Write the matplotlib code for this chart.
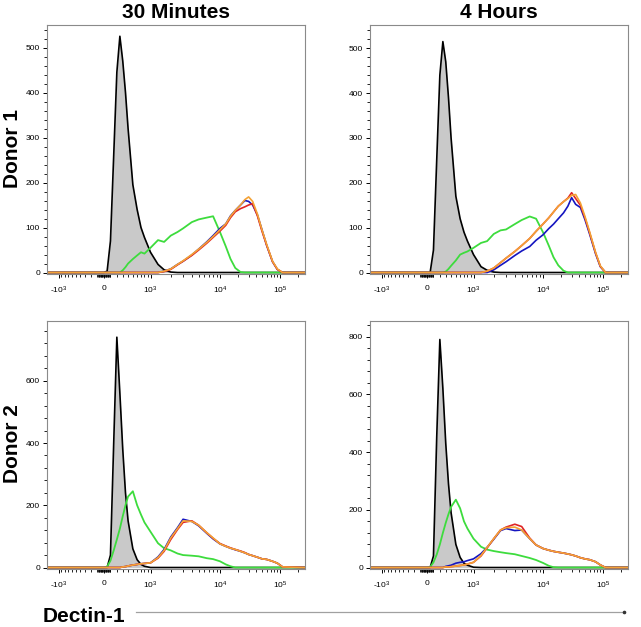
import numpy as np
import matplotlib
matplotlib.use('Agg')
import matplotlib.pyplot as plt
from matplotlib.ticker import FixedLocator, MultipleLocator, AutoMinorLocator
from matplotlib.lines import Line2D

plt.rcParams['font.family'] = ['Liberation Sans', 'DejaVu Sans']
plt.rcParams['mathtext.default'] = 'regular'

# Dectin-1 intensity (bin centres, shared by every histogram)
X = [-1500, 0, 50, 100, 150, 200, 250, 300, 350, 400, 500, 600, 700, 800, 1000,
     1300, 1600, 2000, 2500, 3000, 4000, 5000, 6500, 8000, 10000, 12500, 15000,
     18000, 22000, 26000, 30000, 35000, 42000, 50000, 60000, 75000, 90000, 110000, 260000]

# Donor 1, 30 minutes
tl_black = [0, 0, 3, 70, 260, 445, 525, 470, 400, 320, 195, 140, 100, 78, 45, 18, 6, 1] + [0]*21
tl_green = [0]*7 + [5, 12, 20, 30, 38, 45, 42, 55, 72, 68, 82, 90, 98, 112, 118, 122, 125,
                    90, 58, 30, 10, 1] + [0]*10
tl_blue = [0]*16 + [3, 8, 18, 25, 39, 52, 68, 82, 98, 108, 126, 138, 150, 160, 158, 150, 128,
                    95, 60, 24, 7, 0, 0]
tl_red = [0]*16 + [2, 7, 17, 25, 38, 50, 65, 78, 92, 105, 122, 135, 142, 146, 150, 153, 126,
                   92, 60, 24, 7, 0, 0]
tl_orange = [0]*16 + [3, 8, 18, 26, 40, 52, 67, 80, 95, 108, 125, 138, 150, 162, 168, 158, 130,
                      95, 62, 25, 8, 0, 0]

# Donor 1, 4 hours
tr_black = [0, 0, 0, 50, 250, 440, 515, 470, 390, 300, 170, 120, 90, 70, 40, 13, 5, 1] + [0]*21
tr_green = [0]*7 + [2, 8, 15, 27, 40, 44, 47, 55, 66, 70, 86, 94, 96, 108, 117, 125, 120,
                    90, 60, 34, 16, 4] + [0]*10
tr_blue = [0]*17 + [6, 16, 24, 38, 48, 58, 72, 84, 98, 108, 120, 133, 148, 167, 152, 145,
                    118, 85, 42, 13, 0, 0]
tr_red = [0]*16 + [3, 10, 22, 32, 47, 60, 76, 92, 108, 122, 135, 148, 158, 166, 178, 165, 150,
                   122, 88, 44, 14, 0, 0]
tr_orange = [0]*16 + [3, 10, 22, 32, 47, 60, 76, 92, 108, 122, 135, 148, 158, 165, 172, 174, 155,
                      125, 90, 45, 15, 0, 0]

# Donor 2, 30 minutes
bl_black = [0, 0, 0, 40, 400, 740, 560, 380, 240, 150, 60, 25, 10, 4] + [0]*25
bl_green = [0, 0, 3, 22, 55, 90, 125, 165, 200, 228, 245, 200, 170, 145, 115, 78, 62, 55, 45,
            40, 38, 36, 30, 27, 20, 10, 4] + [0]*12
bl_blue = [0]*7 + [2, 3, 5, 8, 10, 12, 13, 15, 34, 58, 98, 128, 155, 148, 134, 110, 92, 76, 68,
                   62, 57, 52, 47, 42, 38, 33, 28, 26, 20, 14, 2, 0]
bl_red = [0]*7 + [2, 3, 5, 8, 10, 12, 13, 15, 30, 52, 90, 122, 145, 150, 136, 112, 94, 77, 69,
                  63, 58, 53, 48, 42, 38, 33, 28, 26, 20, 14, 2, 0]
bl_orange = [0]*7 + [2, 3, 5, 8, 10, 12, 13, 15, 32, 55, 95, 125, 150, 148, 136, 112, 95, 76, 68,
                     62, 58, 52, 47, 42, 38, 33, 28, 26, 20, 14, 2, 0]

# Donor 2, 4 hours
br_black = [0, 0, 0, 40, 450, 790, 620, 430, 290, 190, 80, 35, 15, 8, 1] + [0]*24
br_green = [0, 0, 2, 18, 45, 80, 120, 155, 185, 210, 235, 205, 160, 135, 100, 72, 62, 57, 53,
            50, 46, 40, 33, 26, 16, 6, 1] + [0]*12
br_blue = [0]*7 + [4, 6, 8, 15, 18, 20, 24, 30, 48, 70, 98, 128, 135, 128, 130, 100, 78, 66, 60,
                   56, 53, 50, 47, 44, 40, 34, 30, 27, 20, 9, 0, 0]
br_red = [0]*7 + [2, 2, 3, 5, 7, 9, 12, 18, 40, 68, 100, 130, 140, 150, 142, 102, 78, 66, 60,
                  56, 53, 50, 47, 44, 40, 34, 30, 27, 20, 9, 0, 0]
br_orange = [0]*7 + [2, 2, 3, 5, 7, 9, 12, 18, 42, 70, 100, 130, 138, 140, 130, 100, 78, 66, 60,
                     56, 53, 50, 47, 44, 40, 34, 30, 27, 20, 9, 0, 0]

# biexponential-like axis, built from asinh with fixed decade positions
W = 450.0
G_K = np.arcsinh(np.array([-1e4, -1e3, 0, 1e3, 1e4, 1e5, 1e6]) / W)
U_K = np.array([-336.0, -135.0, 0.0, 140.0, 348.0, 528.0, 708.0])

def fwd(x):
    return np.interp(np.arcsinh(np.asarray(x, dtype=float) / W), G_K, U_K)

def inv(u):
    return W * np.sinh(np.interp(np.asarray(u, dtype=float), U_K, G_K))

minor_x = (list(range(-900, 0, 100)) + list(range(-90, 0, 10)) + list(range(10, 100, 10))
           + list(range(100, 1000, 100)) + list(range(2000, 10000, 1000))
           + list(range(20000, 100000, 10000)) + [200000])

fig = plt.figure(figsize=(6.41, 6.27), dpi=100)

W_PX, H_PX = 641.0, 627.0
panels = [
    ([47, 25, 258, 249], tl_black, tl_green, tl_blue, tl_red, tl_orange, 550, 100),
    ([370, 25, 258, 249], tr_black, tr_green, tr_blue, tr_red, tr_orange, 552, 100),
    ([47, 321, 258, 248], bl_black, bl_green, bl_blue, bl_red, bl_orange, 792, 200),
    ([370, 321, 258, 248], br_black, br_green, br_blue, br_red, br_orange, 854, 200),
]

axes = []
for box, blk, grn, blu, red, org, ytop, ystep in panels:
    l, t, w, h = box
    ax = fig.add_axes([l / W_PX, 1 - (t + h) / H_PX, w / W_PX, h / H_PX])
    ax.set_xscale('function', functions=(fwd, inv))
    ax.fill_between(X, blk, color='#c9c9c9', lw=0)
    ax.plot(X, blk, color='black', lw=1.2)
    ax.plot(X, grn, color='#3ddc3d', lw=1.3)
    ax.plot(X, blu, color='#1515c0', lw=1.2)
    ax.plot(X, red, color='#e02424', lw=1.2)
    ax.plot(X, org, color='#f4a235', lw=1.2)
    ax.set_xlim(-1520, 2.6e5)
    ax.set_ylim(-ytop * 0.006, ytop)
    ax.xaxis.set_major_locator(FixedLocator([-1e3, 0, 1e3, 1e4, 1e5]))
    ax.xaxis.set_minor_locator(FixedLocator(minor_x))
    ax.set_xticklabels(['-10$^{3}$', '0', '10$^{3}$', '10$^{4}$', '10$^{5}$'])
    ax.yaxis.set_major_locator(MultipleLocator(ystep))
    ax.yaxis.set_minor_locator(AutoMinorLocator(5))
    ax.tick_params(which='major', labelsize=6, length=3, width=0.7, direction='out', pad=2)
    ax.tick_params(which='minor', length=2, width=0.6, direction='out')
    ax.tick_params(axis='x', which='major', pad=5)
    for s in ax.spines.values():
        s.set_color('#8a8a8a')
        s.set_linewidth(0.8)
    axes.append(ax)

axes[0].set_title('30 Minutes', fontsize=15, fontweight='bold', pad=5)
axes[1].set_title('4 Hours', fontsize=15, fontweight='bold', pad=5)

fig.text(12 / W_PX, 1 - 149 / H_PX, 'Donor 1', rotation=90, fontsize=15, fontweight='bold',
         ha='center', va='center')
fig.text(13 / W_PX, 1 - 444 / H_PX, 'Donor 2', rotation=90, fontsize=15, fontweight='bold',
         ha='center', va='center')
fig.text(43 / W_PX, 1 - 616 / H_PX, 'Dectin-1', fontsize=15, fontweight='bold',
         ha='left', va='center')

# axis arrow line under the panels
yl = 1 - 612 / H_PX
fig.add_artist(Line2D([136 / W_PX, 624 / W_PX], [yl, yl], color='#a0a0a0', lw=0.9))
fig.add_artist(Line2D([624 / W_PX], [yl], marker='o', ms=1.6, color='#333333', lw=0))

fig.savefig('out.png', dpi=100)
